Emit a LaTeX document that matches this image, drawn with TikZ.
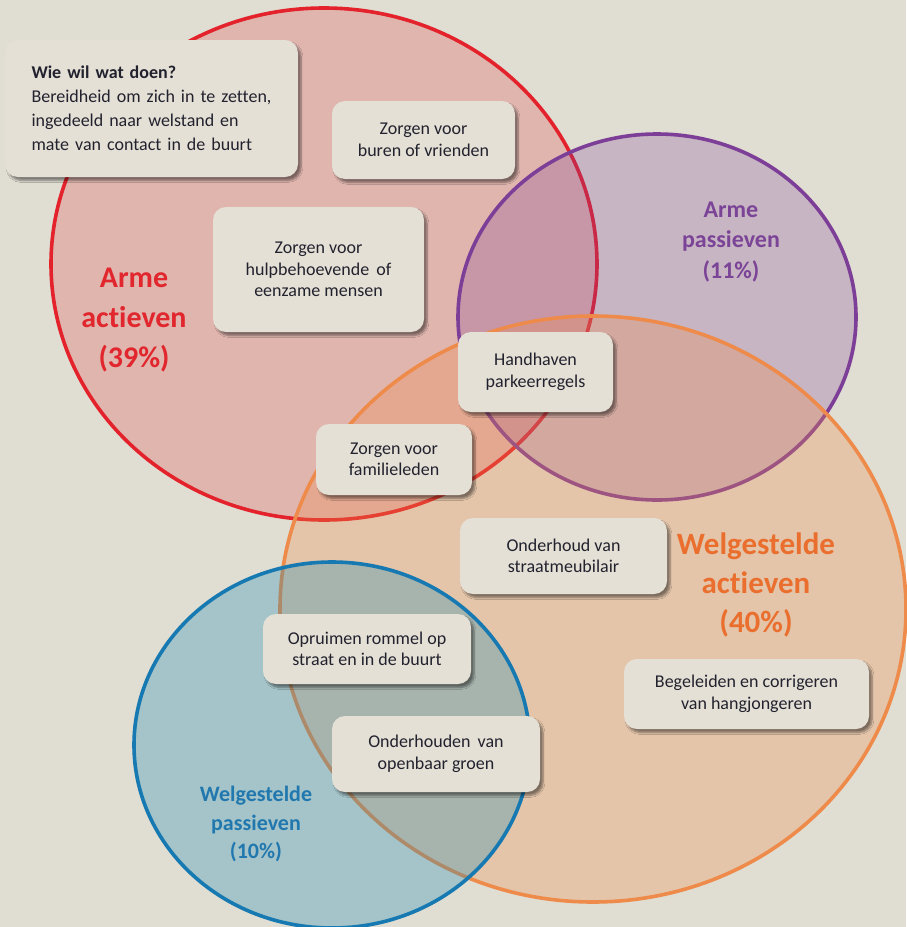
\documentclass[tikz,border=0pt]{standalone}
\usepackage{fontspec}
\setmainfont{Carlito}[Ligatures={NoCommon,NoContextual}]
\usepackage{tikz}
\usetikzlibrary{shadows.blur}

\definecolor{bgcol}{HTML}{E0DDD2}
\definecolor{boxfill}{HTML}{E4E0D6}
\definecolor{boxtext}{HTML}{22222E}
\definecolor{redline}{HTML}{E3222B}
\definecolor{purpleline}{HTML}{7D3E97}
\definecolor{orangeline}{HTML}{EE8B4A}
\definecolor{blueline}{HTML}{1679B1}
\definecolor{bluefill}{HTML}{1A8CB6}
\definecolor{redtext}{HTML}{E1262D}
\definecolor{purpletext}{HTML}{7B4497}
\definecolor{orangetext}{HTML}{EA6F2E}
\definecolor{bluetext}{HTML}{2178AE}

\begin{document}
\begin{tikzpicture}[x=1pt, y=-1pt]
    \tikzset{
        group set/.style={line width=3.6pt},
        task box/.style={
                fill=boxfill, rounded corners=13pt, align=center, text=boxtext,
                font=\fontsize{18}{21.5}\selectfont, inner sep=0pt,
                blur shadow={shadow xshift=3pt, shadow yshift=-3.5pt, shadow blur steps=6, shadow opacity=45}
            },
        group label/.style={align=center, inner sep=0pt}
    }

    \fill[bgcol] (0,0) rectangle (906,927);
    \useasboundingbox (0,0) rectangle (906,927);

    % the four groups
    \coordinate (armeAct) at (324,264);
    \coordinate (armePas) at (657,317);
    \coordinate (welAct) at (593,609);
    \coordinate (welPas) at (332,745);
    \filldraw[group set, draw=redline, fill=redline, fill opacity=0.21] (armeAct) ellipse [x radius=273pt, y radius=256pt];
    \filldraw[group set, draw=purpleline, fill=purpleline, fill opacity=0.25] (armePas) ellipse [x radius=199pt, y radius=183pt];
    \filldraw[group set, draw=orangeline, fill=orangeline, fill opacity=0.29] (welAct) ellipse [x radius=313pt, y radius=293pt];
    \filldraw[group set, draw=blueline, fill=bluefill, fill opacity=0.30] (welPas) ellipse [x radius=198pt, y radius=183pt];

    \node[group label, text=redtext, font=\bfseries\fontsize{30}{40}\selectfont] (lblArmeAct) at (134,320) {Arme\\actieven\\(39\%)};
    \node[group label, text=purpletext, font=\bfseries\fontsize{24}{30.5}\selectfont] (lblArmePas) at (731,242) {Arme\\passieven\\(11\%)};
    \node[group label, text=orangetext, font=\bfseries\fontsize{31}{39}\selectfont] (lblWelAct) at (756,585) {Welgestelde\\actieven\\(40\%)};
    \node[group label, text=bluetext, font=\bfseries\fontsize{22}{28.5}\selectfont] (lblWelPas) at (256,824) {Welgestelde\\passieven\\(10\%)};

    % tasks
    \node[task box, minimum width=293pt, minimum height=137pt, text width=240pt, align=left, font=\fontsize{18}{24}\selectfont] (intro) at (151.5,108.5)
        {\textbf{Wie wil wat doen?}\\Bereidheid om zich in te zetten,\\ingedeeld naar welstand en\\mate van contact in de buurt};
    \node[task box, minimum width=183pt, minimum height=78pt] (buren) at (423.5,140) {Zorgen voor\\buren of vrienden};
    \node[task box, minimum width=211pt, minimum height=125pt] (hulp) at (318.5,269.5) {Zorgen voor\\hulpbehoevende\hspace{3pt} of\\eenzame mensen};
    \node[task box, minimum width=155pt, minimum height=80pt] (parkeer) at (535.5,372) {Handhaven\\parkeerregels};
    \node[task box, minimum width=156pt, minimum height=71pt] (familie) at (394,459.5) {Zorgen voor\\familieleden};
    \node[task box, minimum width=207pt, minimum height=76pt] (meubilair) at (563.5,556) {Onderhoud van\\straatmeubilair};
    \node[task box, minimum width=208pt, minimum height=70pt] (rommel) at (367,649) {Opruimen rommel op\\straat en in de buurt};
    \node[task box, minimum width=208pt, minimum height=76pt] (groen) at (436,754) {Onderhouden\hspace{3pt} van\\openbaar groen};
    \node[task box, minimum width=245pt, minimum height=70pt] (hangjeugd) at (746.5,694) {Begeleiden en corrigeren\\van hangjongeren};
\end{tikzpicture}
\end{document}
